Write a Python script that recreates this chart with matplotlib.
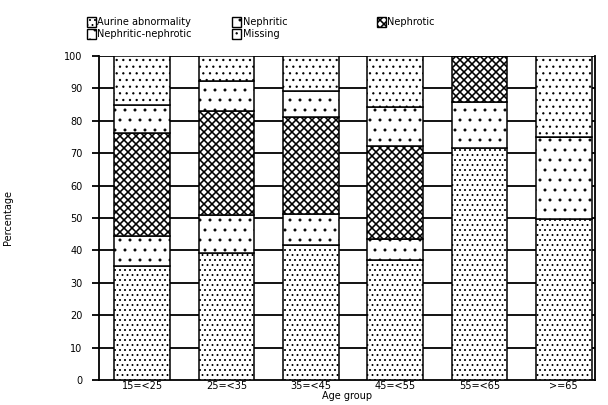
import matplotlib
matplotlib.use("Agg")
import matplotlib.pyplot as plt
from matplotlib.patches import Rectangle
import numpy as np

plt.rcParams['font.family'] = ['DejaVu Sans']

DPI = 120
S = 100 / DPI  # convert sizes tuned at 100 dpi

categories = ["15=<25", "25=<35", "35=<45", "45=<55", "55=<65", ">=65"]
series_names = ["Aurine abnormality", "Nephritic", "Nephrotic", "Nephritic-nephrotic", "Missing"]
urine_abn = [35.2, 39.1, 41.7, 37.0, 71.5, 49.6]
nephritic = [9.2, 11.8, 9.5, 6.4, 14.4, 25.4]
nephrotic = [31.8, 32.1, 29.9, 28.9, 14.1, 0.0]
neph_neph = [8.6, 9.4, 8.2, 11.9, 0.0, 0.0]
missing = [15.2, 7.6, 10.7, 15.8, 0.0, 25.0]
yticks = [0, 10, 20, 30, 40, 50, 60, 70, 80, 90, 100]

series = [urine_abn, nephritic, nephrotic, neph_neph, missing]
hatches = ['....', '..', 'xxxxx', '..', '...']
hatch_lw = [0.7, 0.7, 1.15, 0.7, 0.7]

fig = plt.figure(figsize=(608 / DPI, 405 / DPI), dpi=DPI)
ax = fig.add_axes([99/608, 25/405, 496/608, 324/405])

x = np.arange(len(categories))
bottom = np.zeros(len(categories))
for vals, h, hl in zip(series, hatches, hatch_lw):
    v = np.array(vals)
    with plt.rc_context({'hatch.linewidth': hl * S}):
        bars = ax.bar(x, v, width=0.66, bottom=bottom, facecolor='white', edgecolor='black',
                      hatch=h, linewidth=1.1 * S, zorder=3)
    for b in bars:
        if hasattr(b, 'set_hatch_linewidth'):
            b.set_hatch_linewidth(hl * S)
    bottom += v

for yv in yticks[1:]:
    ax.axhline(yv, color='black', lw=1.3 * S, zorder=1)

fs = 7 * S
ax.set_xlim(-0.51, 5.37)
ax.set_ylim(0, 100)
ax.set_yticks(yticks)
ax.set_yticklabels([str(t) for t in yticks], fontsize=fs)
ax.set_xticks(x)
ax.set_xticklabels(categories, fontsize=fs)
ax.tick_params(axis='x', length=0, pad=1 * S)
ax.tick_params(axis='y', length=5 * S, width=1.3 * S, direction='out', pad=7 * S)
for s in ax.spines.values():
    s.set_linewidth(1.3 * S)
ax.spines['top'].set_visible(False)
ax.set_xlabel("Age group", fontsize=fs, labelpad=0)
ax.set_ylabel("Percentage", fontsize=fs)
ax.yaxis.set_label_coords((13 - 99) / 496, 0.5)

# legend drawn manually to match layout
leg = [
    (87, 17, 0, 97),
    (87, 29, 3, 97),
    (232, 17, 1, 243),
    (232, 29, 4, 243),
    (377, 17, 2, 387),
]
for px, py, idx, tx in leg:
    with plt.rc_context({'hatch.linewidth': hatch_lw[idx] * S}):
        r = Rectangle((px/608, 1 - (py+10)/405), 9/608, 10/405, transform=fig.transFigure,
                      facecolor='white', edgecolor='black', hatch=hatches[idx], lw=1.0 * S)
    if hasattr(r, 'set_hatch_linewidth'):
        r.set_hatch_linewidth(hatch_lw[idx] * S)
    fig.add_artist(r)
    fig.text(tx/608, 1 - (py+5)/405, series_names[idx], fontsize=fs, va='center', ha='left')

fig.savefig("out.png", dpi=DPI)
